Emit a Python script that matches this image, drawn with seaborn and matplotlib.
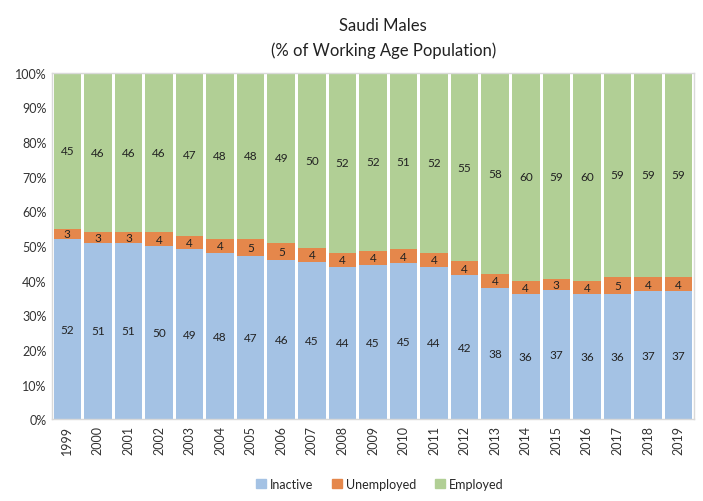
import numpy as np
import pandas as pd
import matplotlib
matplotlib.use("Agg")
import matplotlib.pyplot as plt
import seaborn as sns
from matplotlib.patches import Patch

# Saudi males, % of working age population
years = [str(y) for y in range(1999, 2020)]
inactive = [52, 51, 51, 50, 49, 48, 47, 46, 45, 44, 45, 45, 44, 42, 38, 36, 37, 36, 36, 37, 37]
unemployed = [3, 3, 3, 4, 4, 4, 5, 5, 4, 4, 4, 4, 4, 4, 4, 4, 3, 4, 5, 4, 4]
employed = [45, 46, 46, 46, 47, 48, 48, 49, 50, 52, 52, 51, 52, 55, 58, 60, 59, 60, 59, 59, 59]

c_inactive = "#A4C2E4"
c_unemp = "#E5874B"
c_emp = "#B1CF95"

df = pd.DataFrame({"year": years, "Inactive": inactive,
                   "Unemployed": unemployed, "Employed": employed})
total = df[["Inactive", "Unemployed", "Employed"]].sum(axis=1)
# normalise to 100% stacked
df["p_in"] = df["Inactive"] / total * 100
df["p_un"] = df["Unemployed"] / total * 100
df["p_em"] = df["Employed"] / total * 100
df["cum_un"] = df["p_in"] + df["p_un"]
df["cum_em"] = df["cum_un"] + df["p_em"]

sns.set_style("white")
plt.rcParams["font.family"] = ["Lato", "DejaVu Sans"]

fig = plt.figure(figsize=(7.03, 5.02), dpi=100)
ax = fig.add_axes([0.074, 0.163, 0.913, 0.690])

# layered bars: tallest first
for col, color in [("cum_em", c_emp), ("cum_un", c_unemp), ("p_in", c_inactive)]:
    sns.barplot(data=df, x="year", y=col, color=color, width=0.9,
                linewidth=0, saturation=1, ax=ax)

for i, row in df.iterrows():
    ax.text(i, row["p_in"] / 2, f"{row['Inactive']}", ha="center", va="center",
            fontsize=8.5, color="#222222")
    ax.text(i, row["p_in"] + row["p_un"] / 2, f"{row['Unemployed']}", ha="center",
            va="center", fontsize=8.5, color="#222222")
    ax.text(i, row["cum_un"] + row["p_em"] / 2, f"{row['Employed']}", ha="center",
            va="center", fontsize=8.5, color="#222222")

ax.set_ylim(0, 100)
ax.set_xlim(-0.5, len(years) - 0.5)
ax.set_yticks(np.arange(0, 101, 10))
ax.set_yticklabels([f"{v}%" for v in range(0, 101, 10)], fontsize=9, color="#333333")
ax.set_xticks(range(len(years)))
ax.set_xticklabels(years, rotation=90, fontsize=9, color="#333333")
ax.tick_params(length=0, pad=4)
ax.set_xlabel("")
ax.set_ylabel("")
for s in ax.spines.values():
    s.set_color("#D9D9D9")
    s.set_linewidth(1)

fig.text(0.545, 0.965, "Saudi Males", ha="center", va="top", fontsize=12, color="#222222")
fig.text(0.545, 0.915, "(% of Working Age Population)", ha="center", va="top",
         fontsize=12, color="#222222")

handles = [Patch(color=c_inactive, label="Inactive"),
           Patch(color=c_unemp, label="Unemployed"),
           Patch(color=c_emp, label="Employed")]
fig.legend(handles=handles, loc="lower center", bbox_to_anchor=(0.54, 0.0), ncol=3,
           frameon=False, fontsize=9, handlelength=0.8, handleheight=0.8,
           handletextpad=0.3, columnspacing=1.5)

fig.savefig("out.png", dpi=100)
